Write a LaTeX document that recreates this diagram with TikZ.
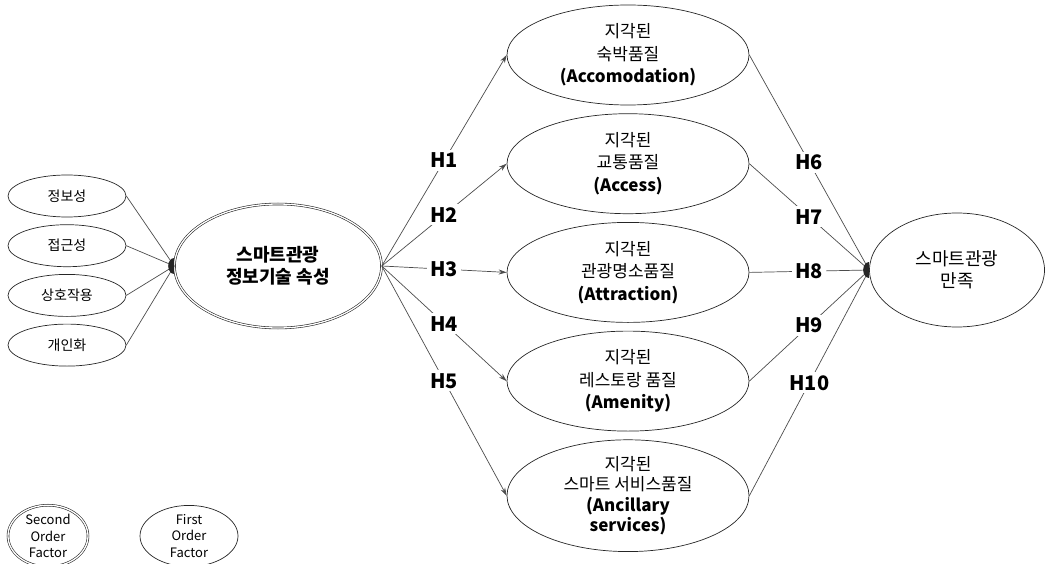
\documentclass[tikz,border=0pt]{standalone}
\usepackage{fontspec}
\setmainfont{Noto Sans CJK KR}
\usetikzlibrary{
	chains,
	positioning,
	arrows.meta,
	shapes.geometric
}

\begin{document}
\begin{tikzpicture}[
	x = 1pt, y = 1pt,
	factor/.style args = {#1 and #2}{
		ellipse, draw=black!85, line width=0.7pt,
		minimum width=#1, minimum height=#2,
		inner sep=0pt, align=center
	},
	second/.style = {
		double, double distance=1.3pt, line width=0.6pt
	},
	path/.style = {draw=black!70, line width=0.7pt},
	hyp/.style = {
		fill=white, inner sep=3pt,
		font=\fontsize{20}{24}\selectfont\bfseries
	},
	dot/.style = {fill=black!85}
]
	\useasboundingbox (0,0) rectangle (1046,-564);

	% second order factor and its items
	\node (src) [factor={207pt and 124pt}, second,
		font=\fontsize{18}{22}\selectfont\bfseries] at (278,-266)
		{스마트관광\\정보기술 속성};

	\begin{scope}[start chain = going below, node distance = 7pt,
		every node/.style = {font=\fontsize{14}{17}\selectfont}]
		\node (i1) [factor={118pt and 42pt}, on chain] at (67,-196) {정보성};
		\node (i2) [factor={118pt and 42pt}, on chain] {접근성};
		\node (i3) [factor={118pt and 42pt}, on chain] {상호작용};
		\node (i4) [factor={118pt and 42pt}, on chain] {개인화};
	\end{scope}

	% perceived quality factors
	\begin{scope}[start chain = going below, node distance = 8pt,
		every node/.style = {font=\fontsize{17}{22.5}\selectfont}]
		\node (q1) [factor={242pt and 100pt}, on chain] at (628,-55)
			{지각된\\숙박품질\\\textbf{(Accomodation)}};
		\node (q2) [factor={242pt and 100pt}, on chain]
			{지각된\\교통품질\\\textbf{(Access)}};
		\node (q3) [factor={242pt and 100pt}, on chain]
			{지각된\\관광명소품질\\\textbf{(Attraction)}};
		\node (q4) [factor={242pt and 100pt}, on chain]
			{지각된\\레스토랑 품질\\\textbf{(Amenity)}};
		\node (q5) [factor={242pt and 100pt}, on chain,
			font=\fontsize{17}{20.5}\selectfont]
			{지각된\\스마트 서비스품질\\\textbf{(Ancillary}\\\textbf{services)}};
	\end{scope}

	\node (sat) [factor={175pt and 114pt},
		font=\fontsize{18}{22}\selectfont] at (957,-270)
		{스마트관광\\만족};

	% legend
	\node (lg2) [factor={80pt and 52pt}, second,
		font=\fontsize{13}{16.5}\selectfont] at (48,-536)
		{Second\\Order\\Factor};
	\node (lg1) [factor={98pt and 50pt},
		font=\fontsize{13}{16.5}\selectfont] at (189,-536)
		{First\\Order\\Factor};

	% items to second order factor
	\foreach \i in {1,...,4}
		\draw [path] (i\i.east) -- (src.west);
	\fill [dot] (src.west) ++(0,-8)
		arc[start angle=-90, end angle=-270, x radius=6, y radius=8] -- cycle;

	% H1 - H5
	\foreach \i in {1,...,5}
		\draw [path, -{Stealth[length=8pt, width=5pt]}] (src.east) -- (q\i.west)
			node [hyp, midway] {H\i};

	% H6 - H10
	\foreach \i/\h in {1/6, 2/7, 3/8, 4/9, 5/10}
		\draw [path] (q\i.east) -- (sat.west)
			node [hyp, midway] {H\h};
	\fill [dot] (sat.west) ++(0,-8)
		arc[start angle=-90, end angle=-270, x radius=6, y radius=8] -- cycle;
\end{tikzpicture}
\end{document}
